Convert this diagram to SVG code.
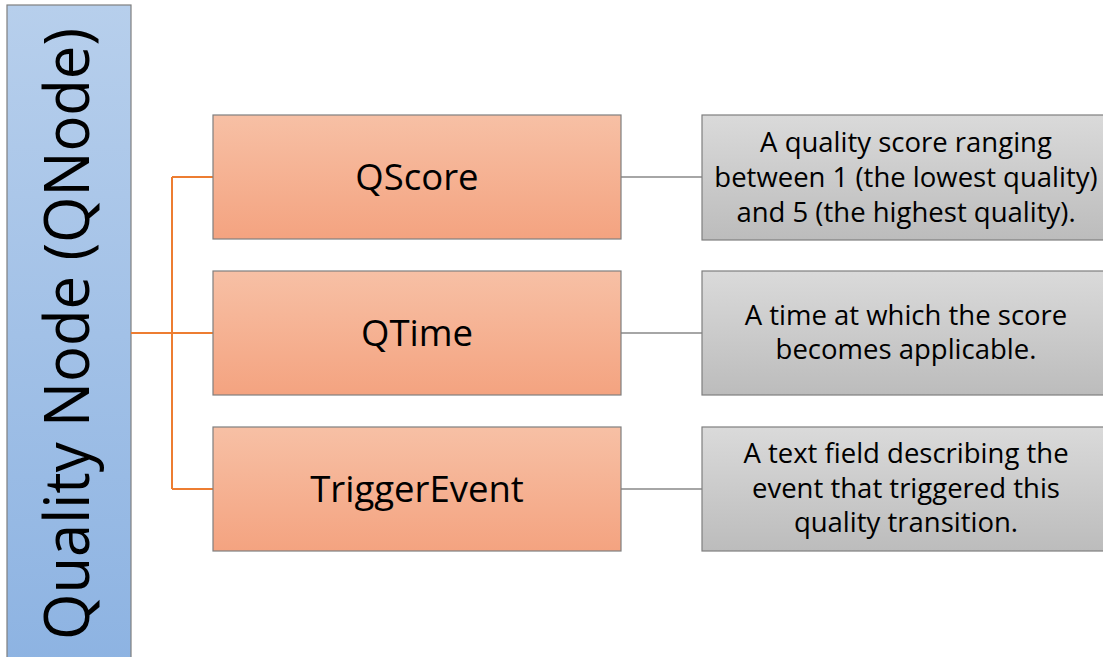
<svg xmlns="http://www.w3.org/2000/svg" width="1103" height="657" viewBox="0 0 1103 657">
  <defs>
    <linearGradient id="gBlue" x1="0" y1="0" x2="0" y2="1">
      <stop offset="0" stop-color="#b7cfec"/>
      <stop offset="1" stop-color="#8db3e2"/>
    </linearGradient>
    <linearGradient id="gOrange" x1="0" y1="0" x2="0" y2="1">
      <stop offset="0" stop-color="#f7c0a5"/>
      <stop offset="1" stop-color="#f4a380"/>
    </linearGradient>
    <linearGradient id="gGray" x1="0" y1="0" x2="0" y2="1">
      <stop offset="0" stop-color="#dadada"/>
      <stop offset="1" stop-color="#bcbcbc"/>
    </linearGradient>
  </defs>
  <style>
    .box { stroke: #7f7f7f; stroke-width: 1.2; }
    .orange { fill: url(#gOrange); }
    .gray { fill: url(#gGray); }
    .label { font-family: "Open Sans", "Liberation Sans", sans-serif; fill: #000; text-anchor: middle; }
    .big { font-size: 36.5px; }
    .desc { font-size: 27.5px; }
    .tree { fill: none; stroke: #ed7d31; stroke-width: 2; }
    .link { fill: none; stroke: #a6a6a6; stroke-width: 2; }
  </style>
  <rect width="1103" height="657" fill="#ffffff"/>

  <!-- root -->
  <g id="qnode">
    <rect class="box" x="7" y="5" width="124" height="660" fill="url(#gBlue)"/>
    <text class="label" transform="translate(89 334) rotate(-90)" font-size="62" textLength="612" lengthAdjust="spacingAndGlyphs">Quality Node (QNode)</text>
  </g>

  <!-- connectors -->
  <g id="connectors">
    <path class="tree" d="M131 333 H172 M172 177 V489 M172 177 H213 M172 333 H213 M172 489 H213"/>
    <path class="link" d="M621 177 H702 M621 333 H702 M621 489 H702"/>
  </g>

  <!-- fields -->
  <g id="qscore">
    <rect class="box orange" x="213" y="115" width="408" height="124"/>
    <text class="label big" x="417" y="190">QScore</text>
  </g>
  <g id="qtime">
    <rect class="box orange" x="213" y="271" width="408" height="124"/>
    <text class="label big" x="417" y="346">QTime</text>
  </g>
  <g id="triggerevent">
    <rect class="box orange" x="213" y="427" width="408" height="124"/>
    <text class="label big" x="417" y="502">TriggerEvent</text>
  </g>

  <!-- descriptions -->
  <g id="qscore-desc">
    <rect class="box gray" x="702" y="115" width="410" height="125"/>
    <text class="label desc" x="906" y="152">A quality score ranging</text>
    <text class="label desc" x="906" y="187">between 1 (the lowest quality)</text>
    <text class="label desc" x="906" y="222">and 5 (the highest quality).</text>
  </g>
  <g id="qtime-desc">
    <rect class="box gray" x="702" y="271" width="410" height="124"/>
    <text class="label desc" x="906" y="325">A time at which the score</text>
    <text class="label desc" x="906" y="359">becomes applicable.</text>
  </g>
  <g id="triggerevent-desc">
    <rect class="box gray" x="702" y="427" width="410" height="124"/>
    <text class="label desc" x="906" y="463">A text field describing the</text>
    <text class="label desc" x="906" y="498">event that triggered this</text>
    <text class="label desc" x="906" y="532">quality transition.</text>
  </g>
</svg>
